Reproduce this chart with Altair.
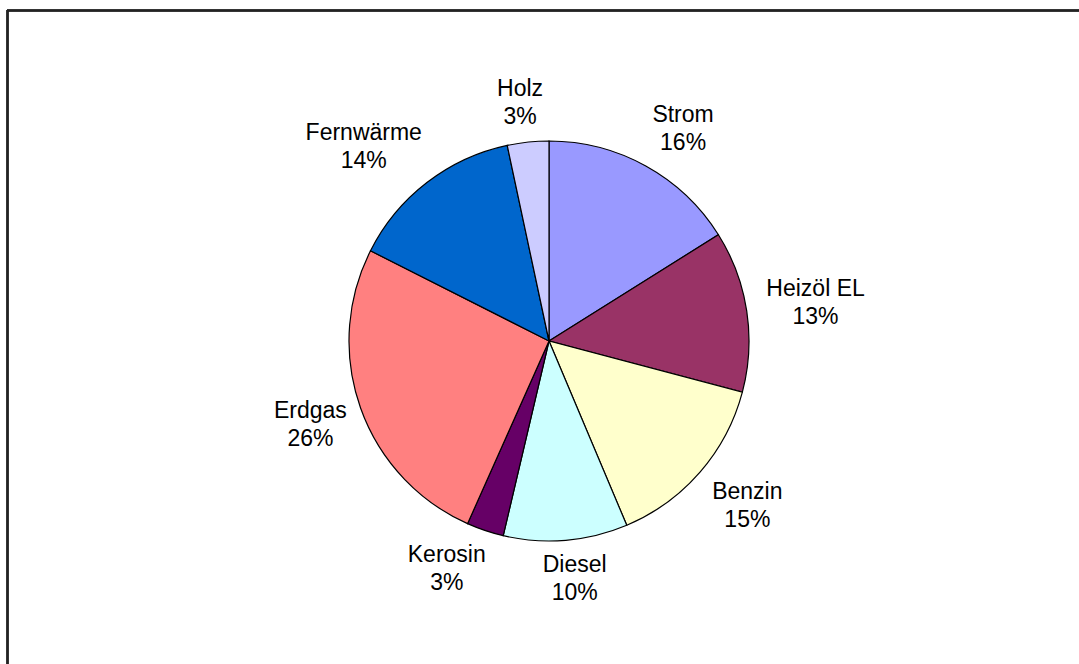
import altair as alt
import pandas as pd

categories = ["Strom", "Heizöl EL", "Benzin", "Diesel", "Kerosin", "Erdgas", "Fernwärme", "Holz"]
shares = [16.08, 13.03, 14.53, 10.03, 3.0, 25.77, 14.2, 3.35]
pct_labels = ["16%", "13%", "15%", "10%", "3%", "26%", "14%", "3%"]
colors = ["#9999FF", "#993366", "#FFFFCC", "#CCFFFF", "#660066", "#FF8080", "#0066CC", "#CCCCFF"]

df = pd.DataFrame({
    "idx": list(range(len(categories))),
    "cat": categories,
    "value": shares,
    "pct": pct_labels,
})

CX, CY, R = 549, 341, 200
GAP = 15
LH = 28
HALF_H = 24

base = alt.Chart(df)

arcs = base.mark_arc(outerRadius=R, stroke="black", strokeWidth=1.2).encode(
    theta=alt.Theta("value:Q", stack=True),
    color=alt.Color("cat:N", scale=alt.Scale(domain=categories, range=colors), legend=None),
    order=alt.Order("idx:Q"),
    x=alt.value(CX),
    y=alt.value(CY),
)

labels = alt.Chart(df).transform_window(
    cum="sum(value)", sort=[alt.SortField("idx")], frame=[None, 0]
).transform_joinaggregate(
    total="sum(value)"
).transform_calculate(
    mid="2*PI*(datum.cum - datum.value/2)/datum.total",
    w="length(datum.cat)*12",
    lab="datum.cat + '\\n' + datum.pct",
).transform_calculate(
    ax="%f + %f*sin(datum.mid)" % (CX, R + GAP),
    ay="%f - %f*cos(datum.mid)" % (CY, R + GAP),
).transform_calculate(
    px="datum.ax + datum.w/2*clamp(2.5*sin(datum.mid), -1, 1)",
    py="datum.ay - %f*clamp(1.5*cos(datum.mid), -1, 1) - %f" % (HALF_H, LH / 2),
).mark_text(
    font="Liberation Sans", fontSize=23, lineBreak="\n", lineHeight=LH,
    align="center", baseline="middle", color="black",
).encode(
    x=alt.X("px:Q", scale=None),
    y=alt.Y("py:Q", scale=None),
    text="lab:N",
)

border_top = alt.Chart(df).mark_rule(color="#222222", strokeWidth=1.5).encode(
    x=alt.value(7), x2=alt.value(1079), y=alt.value(10.5)
)
border_left = alt.Chart(df).mark_rule(color="#222222", strokeWidth=1.5).encode(
    x=alt.value(7.5), y=alt.value(10), y2=alt.value(664)
)

chart = alt.layer(arcs, labels, border_top, border_left).properties(
    width=1079, height=664, autosize=alt.AutoSizeParams(type="none"), padding=0,
    background="white",
).resolve_scale(theta="independent").configure_view(stroke=None)

chart.save("out.html", embed_options={"renderer": "svg", "actions": False})
